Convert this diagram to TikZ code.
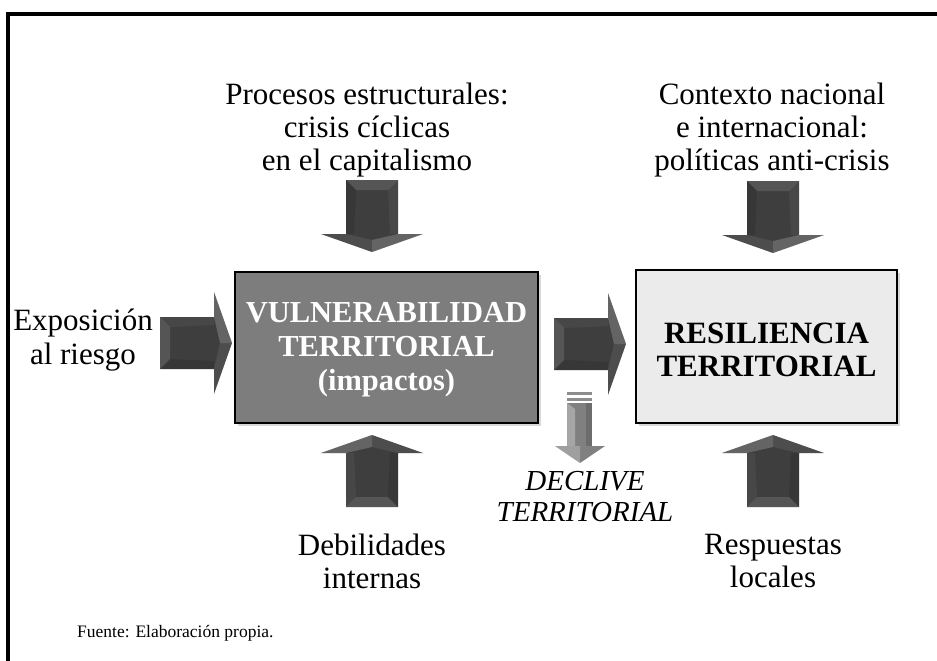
\documentclass[tikz,border=0pt]{standalone}
\usepackage{fontspec}
\setmainfont{Liberation Serif}
\usetikzlibrary{shadows}
\definecolor{arrdark}{HTML}{3E3E3E}
\definecolor{vulnfill}{HTML}{7D7D7D}
\definecolor{resilfill}{HTML}{EBEBEB}
\definecolor{declgray}{HTML}{808080}
\begin{document}
\begin{tikzpicture}[x=1pt,y=-1pt,
  lbl/.style={font=\fontsize{31}{33}\selectfont, align=center, inner sep=0pt},
  boxtext/.style={font=\bfseries\fontsize{30.5}{34}\selectfont, align=center, inner sep=0pt},
  box/.style={draw=black, line width=2pt, inner sep=0pt,
    drop shadow={shadow xshift=3pt, shadow yshift=-3pt, opacity=0.3}},
  pics/barrow/.style={code={
    \fill[arrdark] (0,-26) -- (54,-26) -- (54,-51) -- (72,0) -- (54,51) -- (54,26) -- (0,26) -- cycle;
    \fill[white,opacity=.12] (0,-26) -- (0,26) -- (10,16) -- (10,-16) -- cycle;
    \fill[white,opacity=.05] (0,-26) -- (54,-26) -- (54,-18) -- (10,-16) -- cycle;
    \fill[black,opacity=.10] (0,26) -- (54,26) -- (54,18) -- (10,16) -- cycle;
    \fill[white,opacity=.20] (54,-51) -- (72,0) -- (60,0) -- (54,-26) -- cycle;
    \fill[white,opacity=.08] (54,51) -- (72,0) -- (60,0) -- (54,26) -- cycle;
  }}
]
\useasboundingbox (0,0) rectangle (937,661);
\fill[white] (0,0) rectangle (937,661);
% frame
\draw[line width=4pt, line join=miter] (8,661) -- (8,14) -- (937,14);

% boxes
\node[box, fill=vulnfill, minimum width=303pt, minimum height=151pt] (vuln) at (386.5,347.5) {};
\node[boxtext, text=white] (vulntext) at (386.5,350) {VULNERABILIDAD\\TERRITORIAL\\(impactos)};

\node[box, fill=resilfill, minimum width=261pt, minimum height=153pt] (resil) at (766.5,346.5) {};
\node[boxtext, font=\bfseries\fontsize{31}{33}\selectfont] (resiltext) at (766.5,350) {RESILIENCIA\\TERRITORIAL};

% labels
\node[lbl] (proc) at (367,130) {Procesos estructurales:\\crisis cíclicas\\en el capitalismo};
\node[lbl] (ctx) at (772,130) {Contexto nacional\\e internacional:\\políticas anti-crisis};
\node[lbl, font=\fontsize{31}{34}\selectfont] (expo) at (83,340) {Exposición\\al riesgo};
\node[lbl] (debil) at (372,561) {Debilidades\\internas};
\node[lbl] (resp) at (773,561) {Respuestas\\locales};
\node[lbl, font=\itshape\fontsize{29}{31}\selectfont] (decl) at (585,497) {DECLIVE\\TERRITORIAL};
\node[anchor=west, inner sep=0pt, font=\fontsize{17.5}{19}\selectfont] (fuente) at (77,633) {Fuente: Elaboración propia.};

% block arrows
\pic at (160,343) {barrow};
\pic at (554,344) {barrow};
\pic[rotate=-90] at (372,180) {barrow};
\pic[rotate=-90] at (773,181) {barrow};
\pic[rotate=90] at (372,507) {barrow};
\pic[rotate=90] at (773,507) {barrow};

% declive arrow
\fill[declgray!90] (567,392) rectangle (592,395);
\fill[declgray!90] (567,397.5) rectangle (592,400.5);
\fill[declgray] (567,403) rectangle (592,446);
\fill[white,opacity=.3] (567,403) -- (575,409) -- (575,446) -- (567,446) -- cycle;
\fill[black,opacity=.15] (586,403) rectangle (592,446);
\fill[declgray] (555,446) -- (605,446) -- (580,463) -- cycle;
\fill[white,opacity=.25] (555,446) -- (580,446) -- (580,463) -- cycle;
\end{tikzpicture}
\end{document}
